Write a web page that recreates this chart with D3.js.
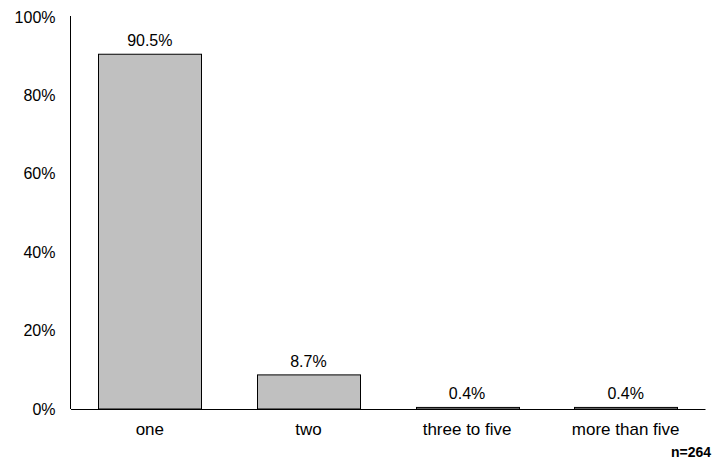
<!DOCTYPE html>
<html><head><meta charset="utf-8">
<script src="https://cdn.jsdelivr.net/npm/d3@7"></script>
<style>body{margin:0;background:#fff;} text{font-family:"Liberation Sans",Arial,sans-serif;}</style>
</head><body><svg id="c" width="713" height="460"></svg>
<script>
const categories = ["one", "two", "three to five", "more than five"];
const values = [90.5, 8.7, 0.4, 0.4];
const valueLabels = ["90.5%", "8.7%", "0.4%", "0.4%"];
const yTicks = [0, 20, 40, 60, 80, 100];
const note = "n=264";

const svg = d3.select("#c");
const m = {left: 70.5, right: 705, top: 17, bottom: 409};
const x = d3.scaleBand().domain(categories).range([m.left, m.right]).paddingInner(0.35).paddingOuter(0.175);
const y = d3.scaleLinear().domain([0, 100]).range([m.bottom, m.top]);
const ff = "'Liberation Sans',Arial,sans-serif";

svg.append("g").attr("transform", `translate(${m.left},0)`)
  .call(d3.axisLeft(y).tickValues(yTicks).tickFormat(d => d + "%").tickSize(0).tickPadding(15))
  .call(g => g.select(".domain").attr("stroke", "#000").attr("d", `M0,${m.bottom}V${m.top - 1}`))
  .call(g => g.selectAll("text").attr("font-size", 16).attr("fill", "#000").style("font-family", ff));

svg.selectAll("rect.bar").data(values).join("rect").attr("class", "bar")
  .attr("x", (d, i) => Math.round(x(categories[i])) + 0.5)
  .attr("width", Math.round(x.bandwidth()))
  .attr("y", d => y(d))
  .attr("height", d => y(0) - y(d))
  .attr("fill", "#c0c0c0").attr("stroke", "#000").attr("stroke-width", 1);

svg.append("g").attr("transform", `translate(0,${m.bottom})`)
  .call(d3.axisBottom(x).tickSize(0).tickPadding(14))
  .call(g => g.select(".domain").attr("stroke", "#000"))
  .call(g => g.selectAll("text").attr("font-size", 17).attr("fill", "#000").style("font-family", ff));

svg.selectAll("text.val").data(values).join("text").attr("class", "val")
  .attr("x", (d, i) => x(categories[i]) + x.bandwidth() / 2)
  .attr("y", d => y(d) - 8)
  .attr("text-anchor", "middle").attr("font-size", 16).attr("fill", "#000")
  .text((d, i) => valueLabels[i]);

svg.append("text").attr("x", 711).attr("y", 456.5).attr("text-anchor", "end")
  .attr("font-size", 14).attr("font-weight", "bold").attr("fill", "#000").text(note);
</script></body></html>
